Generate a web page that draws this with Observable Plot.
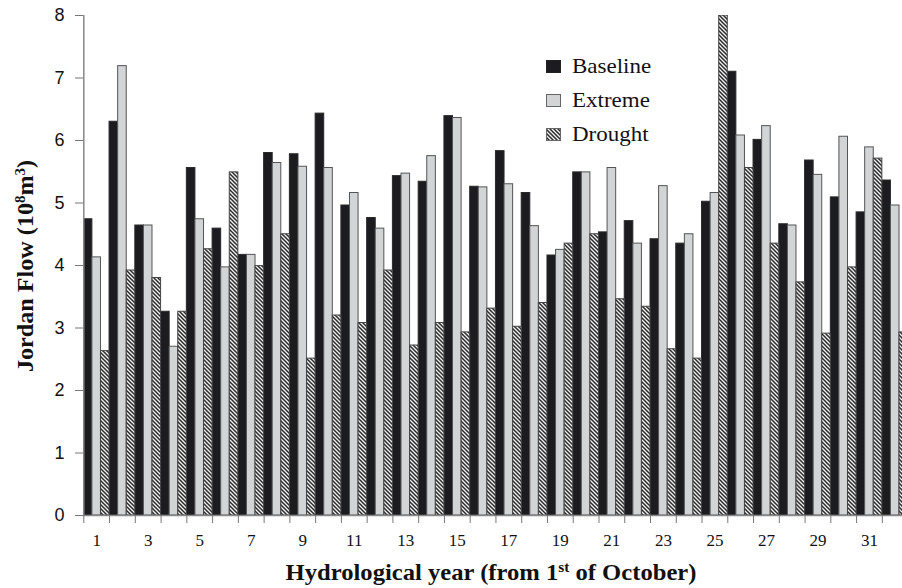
<!DOCTYPE html>
<html><head><meta charset="utf-8">
<script src="https://cdn.jsdelivr.net/npm/d3@7"></script>
<script src="https://cdn.jsdelivr.net/npm/@observablehq/plot@0.6"></script>
<style>
html,body{margin:0;padding:0;background:#fff;overflow:hidden;}
#wrap{position:relative;width:902px;height:588px;overflow:hidden;}
#wrap svg{position:absolute;left:0;top:0;}
.title{position:absolute;white-space:nowrap;font-family:"Liberation Serif","Times New Roman",serif;font-weight:bold;color:#111;line-height:1;}
.title sup{font-size:0.62em;vertical-align:0.55em;line-height:0;}
#xtitle{left:491px;top:561px;transform:translateX(-50%) scaleX(1.07);font-size:23px;}
#ytitle{left:25px;top:266px;transform:translate(-50%,-50%) rotate(-90deg) scaleX(1.05);font-size:23px;}
</style></head><body>
<div id="wrap">
  <div id="xtitle" class="title">Hydrological year (from 1<sup>st</sup> of October)</div>
  <div id="ytitle" class="title">Jordan Flow (10<sup>8</sup>m<sup>3</sup>)</div>
</div>
<script>
const years = d3.range(1, 33);
const seriesNames = ["Baseline", "Extreme", "Drought"];
const baseline = [4.74, 6.30, 4.64, 3.26, 5.56, 4.59, 4.17, 5.80, 5.78, 6.43, 4.96, 4.76, 5.43, 5.34, 6.39, 5.26,
                  5.83, 5.16, 4.16, 5.49, 4.53, 4.71, 4.42, 4.35, 5.02, 7.10, 6.01, 4.66, 5.68, 5.09, 4.85, 5.36];
const extreme  = [4.13, 7.19, 4.64, 2.70, 4.74, 3.97, 4.17, 5.64, 5.58, 5.56, 5.16, 4.59, 5.47, 5.75, 6.36, 5.25,
                  5.30, 4.63, 4.25, 5.49, 5.56, 4.35, 5.27, 4.50, 5.16, 6.08, 6.23, 4.64, 5.45, 6.06, 5.89, 4.96];
const drought  = [2.63, 3.92, 3.80, 3.26, 4.26, 5.49, 3.99, 4.50, 2.51, 3.20, 3.08, 3.92, 2.72, 3.08, 2.93, 3.31,
                  3.02, 3.40, 4.35, 4.50, 3.46, 3.34, 2.66, 2.51, 8.00, 5.56, 4.35, 3.73, 2.91, 3.97, 5.71, 2.93];
const xTickLabels = [1, 3, 5, 7, 9, 11, 13, 15, 17, 19, 21, 23, 25, 27, 29, 31];
const yTicks = [0, 1, 2, 3, 4, 5, 6, 7, 8];

const seriesValues = [baseline, extreme, drought];
const rows = years.flatMap((yr, i) => seriesValues.map((arr, k) => ({year: yr, k, series: seriesNames[k], value: arr[i]})));
const styles = {
  Baseline: {fill: "#1c1b1f", stroke: "#2a2a2a"},
  Extreme:  {fill: "#d3d4d6", stroke: "#555"},
  Drought:  {fill: "url(#hatch)", stroke: "#444"}
};
const boundaries = years.map(y => y - 0.5);

const bar = s => Plot.rectY(rows.filter(d => d.series === s), {
  x1: d => d.year - 0.5 + d.k / 3,
  x2: d => d.year - 0.5 + (d.k + 1) / 3,
  y1: 0, y2: "value",
  fill: styles[s].fill, stroke: styles[s].stroke, strokeWidth: 1, clip: true
});

const chart = Plot.plot({
  width: 902, height: 560,
  marginTop: 15, marginBottom: 45, marginLeft: 83, marginRight: 0,
  x: {type: "linear", domain: [0.5, 32.5], range: [83.3, 907.6]},
  y: {domain: [0, 8], range: [515, 15]},
  style: {background: "transparent"},
  marks: [
    ...seriesNames.map(bar),
    Plot.ruleY([0], {stroke: "#888", strokeWidth: 1.5}),
    Plot.ruleX([0.5], {y1: 0, y2: 8, stroke: "#888", strokeWidth: 1.5}),
    Plot.axisY({ticks: yTicks, tickSize: 8, tickPadding: 11, fontSize: 18, fontFamily: "Liberation Sans, Arial, sans-serif",
                stroke: "#777", fill: "#111", label: null, tickFormat: d => d}),
    Plot.axisX({ticks: boundaries, tickSize: 8, tickFormat: () => "", stroke: "#777", label: null}),
    Plot.axisX({ticks: xTickLabels, tickSize: 0, tickPadding: 18, fontSize: 17, fontFamily: "Liberation Serif, Times New Roman, serif",
                fill: "#111", label: null, tickFormat: d => d})
  ]
});

const svg = d3.select(chart);
const defs = svg.insert("defs", ":first-child");
const pat = defs.append("pattern").attr("id", "hatch").attr("patternUnits", "userSpaceOnUse").attr("width", 4).attr("height", 4);
pat.append("rect").attr("width", 4).attr("height", 4).attr("fill", "#f2f2f2");
pat.append("path").attr("d", "M-1,-1 L5,5 M-1,3 L1,5 M3,-1 L5,1").attr("stroke", "#2b2b2b").attr("stroke-width", 1.5);

// legend
const lg = svg.append("g").attr("font-family", "Liberation Serif, Times New Roman, serif").attr("font-size", 20)
  .attr("fill", "#111").attr("text-anchor", "start");
const legendBase = [73, 107, 141];
seriesNames.forEach((s, i) => {
  const g = lg.append("g").attr("transform", `translate(546,${legendBase[i]})`);
  g.append("rect").attr("x", 0.5).attr("y", -12.5).attr("width", 14).attr("height", 12)
    .attr("fill", styles[s].fill).attr("stroke", s === "Baseline" ? "#222" : "#666").attr("stroke-width", 1);
  g.append("text").attr("transform", "translate(26,0) scale(1.15,1)").text(s);
});

document.getElementById("wrap").prepend(chart);
</script>
</body></html>
